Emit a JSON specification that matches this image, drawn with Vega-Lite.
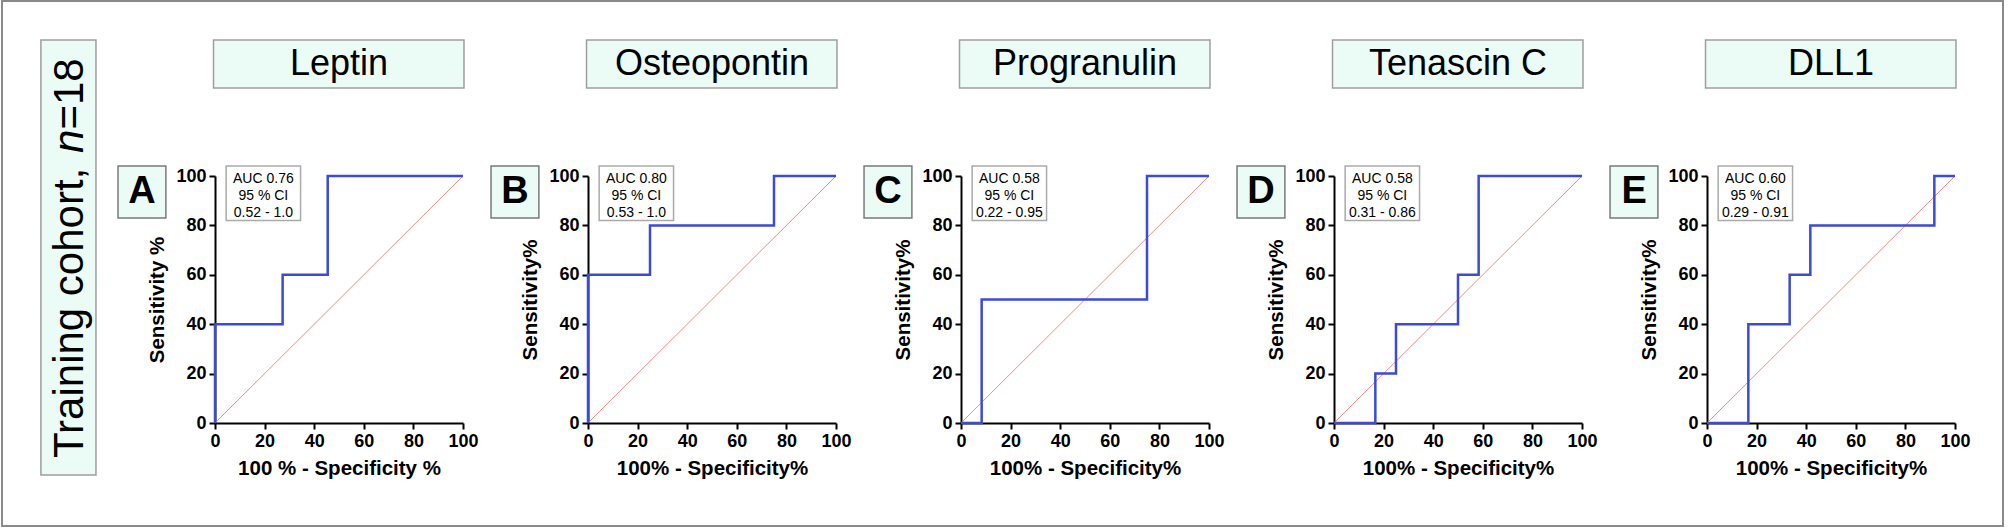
{
  "$schema": "https://vega.github.io/schema/vega-lite/v6.json",
  "padding": 0,
  "background": "white",
  "bounds": "flush",
  "spacing": 125,
  "config": {
    "view": {"stroke": null},
    "font": "Liberation Sans",
    "axis": {"grid": false, "domainColor": "#000", "domainWidth": 2, "tickColor": "#000", "tickWidth": 2, "tickSize": 6, "labelFont": "Liberation Sans", "labelFontSize": 18, "labelFontWeight": "bold", "labelColor": "#000", "labelFlush": false, "titleFont": "Liberation Sans", "titleFontSize": 20.5, "titleFontWeight": "bold", "titleColor": "#000"},
    "axisX": {"labelPadding": 3, "titlePadding": 8},
    "axisY": {"labelPadding": 3, "titlePadding": 8}
  },
  "datasets": {
    "info": [
      {"p": "A", "title": "Leptin", "letter": "A", "auc": "AUC 0.76\n95 % CI\n0.52 - 1.0"},
      {"p": "B", "title": "Osteopontin", "letter": "B", "auc": "AUC 0.80\n95 % CI\n0.53 - 1.0"},
      {"p": "C", "title": "Progranulin", "letter": "C", "auc": "AUC 0.58\n95 % CI\n0.22 - 0.95"},
      {"p": "D", "title": "Tenascin C", "letter": "D", "auc": "AUC 0.58\n95 % CI\n0.31 - 0.86"},
      {"p": "E", "title": "DLL1", "letter": "E", "auc": "AUC 0.60\n95 % CI\n0.29 - 0.91"}
    ],
    "diag": [{"x": 0, "y": 0}, {"x": 100, "y": 100}],
    "roc": [
      {"p": "A", "i": 0, "x": 0, "y": 0}, {"p": "A", "i": 1, "x": 0, "y": 40}, {"p": "A", "i": 2, "x": 27.27, "y": 40}, {"p": "A", "i": 3, "x": 27.27, "y": 60}, {"p": "A", "i": 4, "x": 45.45, "y": 60}, {"p": "A", "i": 5, "x": 45.45, "y": 100}, {"p": "A", "i": 6, "x": 100, "y": 100},
      {"p": "B", "i": 0, "x": 0, "y": 0}, {"p": "B", "i": 1, "x": 0, "y": 60}, {"p": "B", "i": 2, "x": 25, "y": 60}, {"p": "B", "i": 3, "x": 25, "y": 80}, {"p": "B", "i": 4, "x": 75, "y": 80}, {"p": "B", "i": 5, "x": 75, "y": 100}, {"p": "B", "i": 6, "x": 100, "y": 100},
      {"p": "C", "i": 0, "x": 0, "y": 0}, {"p": "C", "i": 1, "x": 8.33, "y": 0}, {"p": "C", "i": 2, "x": 8.33, "y": 50}, {"p": "C", "i": 3, "x": 75, "y": 50}, {"p": "C", "i": 4, "x": 75, "y": 100}, {"p": "C", "i": 5, "x": 100, "y": 100},
      {"p": "D", "i": 0, "x": 0, "y": 0}, {"p": "D", "i": 1, "x": 16.67, "y": 0}, {"p": "D", "i": 2, "x": 16.67, "y": 20}, {"p": "D", "i": 3, "x": 25, "y": 20}, {"p": "D", "i": 4, "x": 25, "y": 40}, {"p": "D", "i": 5, "x": 50, "y": 40}, {"p": "D", "i": 6, "x": 50, "y": 60}, {"p": "D", "i": 7, "x": 58.33, "y": 60}, {"p": "D", "i": 8, "x": 58.33, "y": 100}, {"p": "D", "i": 9, "x": 100, "y": 100},
      {"p": "E", "i": 0, "x": 0, "y": 0}, {"p": "E", "i": 1, "x": 16.67, "y": 0}, {"p": "E", "i": 2, "x": 16.67, "y": 40}, {"p": "E", "i": 3, "x": 33.33, "y": 40}, {"p": "E", "i": 4, "x": 33.33, "y": 60}, {"p": "E", "i": 5, "x": 41.67, "y": 60}, {"p": "E", "i": 6, "x": 41.67, "y": 80}, {"p": "E", "i": 7, "x": 91.67, "y": 80}, {"p": "E", "i": 8, "x": 91.67, "y": 100}, {"p": "E", "i": 9, "x": 100, "y": 100}
    ]
  },
  "hconcat": [
    {
      "width": 248, "height": 247,
      "layer": [
        {"data": {"name": "info"}, "transform": [{"filter": "datum.p==='A'"}], "mark": {"type": "rect", "fill": "white", "fillOpacity": 0, "stroke": "#8a8a8a", "strokeWidth": 2, "clip": false},
         "encoding": {"x": {"datum": -85.89, "type": "quantitative"}, "x2": {"datum": 720.97}, "y": {"datum": 170.85, "type": "quantitative"}, "y2": {"datum": -41.7}}},
        {"data": {"name": "info"}, "transform": [{"filter": "datum.p==='A'"}], "mark": {"type": "rect", "fill": "#ebfcf6", "stroke": "#9e9e9e", "strokeWidth": 1.5, "clip": false},
         "encoding": {"x": {"datum": -70.2, "type": "quantitative"}, "x2": {"datum": -48.0}, "y": {"datum": 155.1, "type": "quantitative"}, "y2": {"datum": -21.1}}},
        {"data": {"name": "info"}, "transform": [{"filter": "datum.p==='A'"}], "mark": {"type": "text", "angle": 270, "align": "left", "baseline": "alphabetic", "fontSize": 42, "color": "#000", "clip": false},
         "encoding": {"x": {"datum": -53.2, "type": "quantitative"}, "y": {"datum": -14.17, "type": "quantitative"}, "text": {"value": "Training cohort,"}}},
        {"data": {"name": "info"}, "transform": [{"filter": "datum.p==='A'"}], "mark": {"type": "text", "angle": 270, "align": "left", "baseline": "alphabetic", "fontSize": 42, "fontStyle": "italic", "color": "#000", "clip": false},
         "encoding": {"x": {"datum": -53.2, "type": "quantitative"}, "y": {"datum": 109.3, "type": "quantitative"}, "text": {"value": "n"}}},
        {"data": {"name": "info"}, "transform": [{"filter": "datum.p==='A'"}], "mark": {"type": "text", "angle": 270, "align": "left", "baseline": "alphabetic", "fontSize": 42, "color": "#000", "clip": false},
         "encoding": {"x": {"datum": -53.2, "type": "quantitative"}, "y": {"datum": 118.8, "type": "quantitative"}, "text": {"value": "=18"}}},
        {"data": {"name": "info"}, "transform": [{"filter": "datum.p==='A'"}], "mark": {"type": "rect", "fill": "#ebfcf6", "stroke": "#9e9e9e", "strokeWidth": 1.5, "clip": false},
         "encoding": {"x": {"datum": -0.6, "type": "quantitative"}, "x2": {"datum": 100.4}, "y": {"datum": 155.1, "type": "quantitative"}, "y2": {"datum": 135.6}}},
        {"data": {"name": "info"}, "transform": [{"filter": "datum.p==='A'"}], "mark": {"type": "text", "fontSize": 36, "align": "center", "baseline": "middle", "color": "#000", "clip": false},
         "encoding": {"x": {"datum": 50, "type": "quantitative"}, "y": {"datum": 145.2, "type": "quantitative"}, "text": {"field": "title"}}},
        {"data": {"name": "info"}, "transform": [{"filter": "datum.p==='A'"}], "mark": {"type": "rect", "fill": "#ebfcf6", "stroke": "#7a7a7a", "strokeWidth": 1.5, "clip": false},
         "encoding": {"x": {"datum": -39.1, "type": "quantitative"}, "x2": {"datum": -19.8}, "y": {"datum": 104, "type": "quantitative"}, "y2": {"datum": 83}}},
        {"data": {"name": "info"}, "transform": [{"filter": "datum.p==='A'"}], "mark": {"type": "text", "fontSize": 38, "fontWeight": "bold", "align": "center", "baseline": "middle", "color": "#000", "clip": false},
         "encoding": {"x": {"datum": -29.4, "type": "quantitative"}, "y": {"datum": 93.5, "type": "quantitative"}, "text": {"field": "letter"}}},
        {"data": {"name": "diag"}, "mark": {"type": "line", "color": "#f28b82", "strokeWidth": 1, "clip": false},
         "encoding": {"x": {"field": "x", "type": "quantitative"}, "y": {"field": "y", "type": "quantitative"}}},
        {"data": {"name": "roc"}, "transform": [{"filter": "datum.p==='A'"}], "mark": {"type": "line", "color": "#3b4ad8", "strokeWidth": 2.5, "clip": false},
         "encoding": {"x": {"field": "x", "type": "quantitative", "scale": {"domain": [0, 100], "nice": false}, "axis": {"title": "100 % - Specificity %", "values": [0, 20, 40, 60, 80, 100]}},
                      "y": {"field": "y", "type": "quantitative", "scale": {"domain": [0, 100], "nice": false}, "axis": {"title": "Sensitivity %", "values": [0, 20, 40, 60, 80, 100]}},
                      "order": {"field": "i"}}},
        {"data": {"name": "info"}, "transform": [{"filter": "datum.p==='A'"}], "mark": {"type": "rect", "fill": "white", "stroke": "#aaaaaa", "strokeWidth": 1.5, "clip": false},
         "encoding": {"x": {"datum": 4.5, "type": "quantitative"}, "x2": {"datum": 34.5}, "y": {"datum": 104, "type": "quantitative"}, "y2": {"datum": 82}}},
        {"data": {"name": "info"}, "transform": [{"filter": "datum.p==='A'"}], "mark": {"type": "text", "fontSize": 14, "lineBreak": "\n", "lineHeight": 17, "align": "center", "baseline": "middle", "color": "#000", "clip": false},
         "encoding": {"x": {"datum": 19.5, "type": "quantitative"}, "y": {"datum": 98.7, "type": "quantitative"}, "text": {"field": "auc"}}}
      ]
    },
    {
      "width": 248, "height": 247,
      "layer": [
        {"data": {"name": "info"}, "transform": [{"filter": "datum.p==='B'"}], "mark": {"type": "rect", "fill": "#ebfcf6", "stroke": "#9e9e9e", "strokeWidth": 1.5, "clip": false},
         "encoding": {"x": {"datum": -0.6, "type": "quantitative"}, "x2": {"datum": 100.4}, "y": {"datum": 155.1, "type": "quantitative"}, "y2": {"datum": 135.6}}},
        {"data": {"name": "info"}, "transform": [{"filter": "datum.p==='B'"}], "mark": {"type": "text", "fontSize": 36, "align": "center", "baseline": "middle", "color": "#000", "clip": false},
         "encoding": {"x": {"datum": 50, "type": "quantitative"}, "y": {"datum": 145.2, "type": "quantitative"}, "text": {"field": "title"}}},
        {"data": {"name": "info"}, "transform": [{"filter": "datum.p==='B'"}], "mark": {"type": "rect", "fill": "#ebfcf6", "stroke": "#7a7a7a", "strokeWidth": 1.5, "clip": false},
         "encoding": {"x": {"datum": -39.1, "type": "quantitative"}, "x2": {"datum": -19.8}, "y": {"datum": 104, "type": "quantitative"}, "y2": {"datum": 83}}},
        {"data": {"name": "info"}, "transform": [{"filter": "datum.p==='B'"}], "mark": {"type": "text", "fontSize": 38, "fontWeight": "bold", "align": "center", "baseline": "middle", "color": "#000", "clip": false},
         "encoding": {"x": {"datum": -29.4, "type": "quantitative"}, "y": {"datum": 93.5, "type": "quantitative"}, "text": {"field": "letter"}}},
        {"data": {"name": "diag"}, "mark": {"type": "line", "color": "#f28b82", "strokeWidth": 1, "clip": false},
         "encoding": {"x": {"field": "x", "type": "quantitative"}, "y": {"field": "y", "type": "quantitative"}}},
        {"data": {"name": "roc"}, "transform": [{"filter": "datum.p==='B'"}], "mark": {"type": "line", "color": "#3b4ad8", "strokeWidth": 2.5, "clip": false},
         "encoding": {"x": {"field": "x", "type": "quantitative", "scale": {"domain": [0, 100], "nice": false}, "axis": {"title": "100% - Specificity%", "values": [0, 20, 40, 60, 80, 100]}},
                      "y": {"field": "y", "type": "quantitative", "scale": {"domain": [0, 100], "nice": false}, "axis": {"title": "Sensitivity%", "values": [0, 20, 40, 60, 80, 100]}},
                      "order": {"field": "i"}}},
        {"data": {"name": "info"}, "transform": [{"filter": "datum.p==='B'"}], "mark": {"type": "rect", "fill": "white", "stroke": "#aaaaaa", "strokeWidth": 1.5, "clip": false},
         "encoding": {"x": {"datum": 4.5, "type": "quantitative"}, "x2": {"datum": 34.5}, "y": {"datum": 104, "type": "quantitative"}, "y2": {"datum": 82}}},
        {"data": {"name": "info"}, "transform": [{"filter": "datum.p==='B'"}], "mark": {"type": "text", "fontSize": 14, "lineBreak": "\n", "lineHeight": 17, "align": "center", "baseline": "middle", "color": "#000", "clip": false},
         "encoding": {"x": {"datum": 19.5, "type": "quantitative"}, "y": {"datum": 98.7, "type": "quantitative"}, "text": {"field": "auc"}}}
      ]
    },
    {
      "width": 248, "height": 247,
      "layer": [
        {"data": {"name": "info"}, "transform": [{"filter": "datum.p==='C'"}], "mark": {"type": "rect", "fill": "#ebfcf6", "stroke": "#9e9e9e", "strokeWidth": 1.5, "clip": false},
         "encoding": {"x": {"datum": -0.6, "type": "quantitative"}, "x2": {"datum": 100.4}, "y": {"datum": 155.1, "type": "quantitative"}, "y2": {"datum": 135.6}}},
        {"data": {"name": "info"}, "transform": [{"filter": "datum.p==='C'"}], "mark": {"type": "text", "fontSize": 36, "align": "center", "baseline": "middle", "color": "#000", "clip": false},
         "encoding": {"x": {"datum": 50, "type": "quantitative"}, "y": {"datum": 145.2, "type": "quantitative"}, "text": {"field": "title"}}},
        {"data": {"name": "info"}, "transform": [{"filter": "datum.p==='C'"}], "mark": {"type": "rect", "fill": "#ebfcf6", "stroke": "#7a7a7a", "strokeWidth": 1.5, "clip": false},
         "encoding": {"x": {"datum": -39.1, "type": "quantitative"}, "x2": {"datum": -19.8}, "y": {"datum": 104, "type": "quantitative"}, "y2": {"datum": 83}}},
        {"data": {"name": "info"}, "transform": [{"filter": "datum.p==='C'"}], "mark": {"type": "text", "fontSize": 38, "fontWeight": "bold", "align": "center", "baseline": "middle", "color": "#000", "clip": false},
         "encoding": {"x": {"datum": -29.4, "type": "quantitative"}, "y": {"datum": 93.5, "type": "quantitative"}, "text": {"field": "letter"}}},
        {"data": {"name": "diag"}, "mark": {"type": "line", "color": "#f28b82", "strokeWidth": 1, "clip": false},
         "encoding": {"x": {"field": "x", "type": "quantitative"}, "y": {"field": "y", "type": "quantitative"}}},
        {"data": {"name": "roc"}, "transform": [{"filter": "datum.p==='C'"}], "mark": {"type": "line", "color": "#3b4ad8", "strokeWidth": 2.5, "clip": false},
         "encoding": {"x": {"field": "x", "type": "quantitative", "scale": {"domain": [0, 100], "nice": false}, "axis": {"title": "100% - Specificity%", "values": [0, 20, 40, 60, 80, 100]}},
                      "y": {"field": "y", "type": "quantitative", "scale": {"domain": [0, 100], "nice": false}, "axis": {"title": "Sensitivity%", "values": [0, 20, 40, 60, 80, 100]}},
                      "order": {"field": "i"}}},
        {"data": {"name": "info"}, "transform": [{"filter": "datum.p==='C'"}], "mark": {"type": "rect", "fill": "white", "stroke": "#aaaaaa", "strokeWidth": 1.5, "clip": false},
         "encoding": {"x": {"datum": 4.5, "type": "quantitative"}, "x2": {"datum": 34.5}, "y": {"datum": 104, "type": "quantitative"}, "y2": {"datum": 82}}},
        {"data": {"name": "info"}, "transform": [{"filter": "datum.p==='C'"}], "mark": {"type": "text", "fontSize": 14, "lineBreak": "\n", "lineHeight": 17, "align": "center", "baseline": "middle", "color": "#000", "clip": false},
         "encoding": {"x": {"datum": 19.5, "type": "quantitative"}, "y": {"datum": 98.7, "type": "quantitative"}, "text": {"field": "auc"}}}
      ]
    },
    {
      "width": 248, "height": 247,
      "layer": [
        {"data": {"name": "info"}, "transform": [{"filter": "datum.p==='D'"}], "mark": {"type": "rect", "fill": "#ebfcf6", "stroke": "#9e9e9e", "strokeWidth": 1.5, "clip": false},
         "encoding": {"x": {"datum": -0.6, "type": "quantitative"}, "x2": {"datum": 100.4}, "y": {"datum": 155.1, "type": "quantitative"}, "y2": {"datum": 135.6}}},
        {"data": {"name": "info"}, "transform": [{"filter": "datum.p==='D'"}], "mark": {"type": "text", "fontSize": 36, "align": "center", "baseline": "middle", "color": "#000", "clip": false},
         "encoding": {"x": {"datum": 50, "type": "quantitative"}, "y": {"datum": 145.2, "type": "quantitative"}, "text": {"field": "title"}}},
        {"data": {"name": "info"}, "transform": [{"filter": "datum.p==='D'"}], "mark": {"type": "rect", "fill": "#ebfcf6", "stroke": "#7a7a7a", "strokeWidth": 1.5, "clip": false},
         "encoding": {"x": {"datum": -39.1, "type": "quantitative"}, "x2": {"datum": -19.8}, "y": {"datum": 104, "type": "quantitative"}, "y2": {"datum": 83}}},
        {"data": {"name": "info"}, "transform": [{"filter": "datum.p==='D'"}], "mark": {"type": "text", "fontSize": 38, "fontWeight": "bold", "align": "center", "baseline": "middle", "color": "#000", "clip": false},
         "encoding": {"x": {"datum": -29.4, "type": "quantitative"}, "y": {"datum": 93.5, "type": "quantitative"}, "text": {"field": "letter"}}},
        {"data": {"name": "diag"}, "mark": {"type": "line", "color": "#f28b82", "strokeWidth": 1, "clip": false},
         "encoding": {"x": {"field": "x", "type": "quantitative"}, "y": {"field": "y", "type": "quantitative"}}},
        {"data": {"name": "roc"}, "transform": [{"filter": "datum.p==='D'"}], "mark": {"type": "line", "color": "#3b4ad8", "strokeWidth": 2.5, "clip": false},
         "encoding": {"x": {"field": "x", "type": "quantitative", "scale": {"domain": [0, 100], "nice": false}, "axis": {"title": "100% - Specificity%", "values": [0, 20, 40, 60, 80, 100]}},
                      "y": {"field": "y", "type": "quantitative", "scale": {"domain": [0, 100], "nice": false}, "axis": {"title": "Sensitivity%", "values": [0, 20, 40, 60, 80, 100]}},
                      "order": {"field": "i"}}},
        {"data": {"name": "info"}, "transform": [{"filter": "datum.p==='D'"}], "mark": {"type": "rect", "fill": "white", "stroke": "#aaaaaa", "strokeWidth": 1.5, "clip": false},
         "encoding": {"x": {"datum": 4.5, "type": "quantitative"}, "x2": {"datum": 34.5}, "y": {"datum": 104, "type": "quantitative"}, "y2": {"datum": 82}}},
        {"data": {"name": "info"}, "transform": [{"filter": "datum.p==='D'"}], "mark": {"type": "text", "fontSize": 14, "lineBreak": "\n", "lineHeight": 17, "align": "center", "baseline": "middle", "color": "#000", "clip": false},
         "encoding": {"x": {"datum": 19.5, "type": "quantitative"}, "y": {"datum": 98.7, "type": "quantitative"}, "text": {"field": "auc"}}}
      ]
    },
    {
      "width": 248, "height": 247,
      "layer": [
        {"data": {"name": "info"}, "transform": [{"filter": "datum.p==='E'"}], "mark": {"type": "rect", "fill": "#ebfcf6", "stroke": "#9e9e9e", "strokeWidth": 1.5, "clip": false},
         "encoding": {"x": {"datum": -0.6, "type": "quantitative"}, "x2": {"datum": 100.4}, "y": {"datum": 155.1, "type": "quantitative"}, "y2": {"datum": 135.6}}},
        {"data": {"name": "info"}, "transform": [{"filter": "datum.p==='E'"}], "mark": {"type": "text", "fontSize": 36, "align": "center", "baseline": "middle", "color": "#000", "clip": false},
         "encoding": {"x": {"datum": 50, "type": "quantitative"}, "y": {"datum": 145.2, "type": "quantitative"}, "text": {"field": "title"}}},
        {"data": {"name": "info"}, "transform": [{"filter": "datum.p==='E'"}], "mark": {"type": "rect", "fill": "#ebfcf6", "stroke": "#7a7a7a", "strokeWidth": 1.5, "clip": false},
         "encoding": {"x": {"datum": -39.1, "type": "quantitative"}, "x2": {"datum": -19.8}, "y": {"datum": 104, "type": "quantitative"}, "y2": {"datum": 83}}},
        {"data": {"name": "info"}, "transform": [{"filter": "datum.p==='E'"}], "mark": {"type": "text", "fontSize": 38, "fontWeight": "bold", "align": "center", "baseline": "middle", "color": "#000", "clip": false},
         "encoding": {"x": {"datum": -29.4, "type": "quantitative"}, "y": {"datum": 93.5, "type": "quantitative"}, "text": {"field": "letter"}}},
        {"data": {"name": "diag"}, "mark": {"type": "line", "color": "#f28b82", "strokeWidth": 1, "clip": false},
         "encoding": {"x": {"field": "x", "type": "quantitative"}, "y": {"field": "y", "type": "quantitative"}}},
        {"data": {"name": "roc"}, "transform": [{"filter": "datum.p==='E'"}], "mark": {"type": "line", "color": "#3b4ad8", "strokeWidth": 2.5, "clip": false},
         "encoding": {"x": {"field": "x", "type": "quantitative", "scale": {"domain": [0, 100], "nice": false}, "axis": {"title": "100% - Specificity%", "values": [0, 20, 40, 60, 80, 100]}},
                      "y": {"field": "y", "type": "quantitative", "scale": {"domain": [0, 100], "nice": false}, "axis": {"title": "Sensitivity%", "values": [0, 20, 40, 60, 80, 100]}},
                      "order": {"field": "i"}}},
        {"data": {"name": "info"}, "transform": [{"filter": "datum.p==='E'"}], "mark": {"type": "rect", "fill": "white", "stroke": "#aaaaaa", "strokeWidth": 1.5, "clip": false},
         "encoding": {"x": {"datum": 4.5, "type": "quantitative"}, "x2": {"datum": 34.5}, "y": {"datum": 104, "type": "quantitative"}, "y2": {"datum": 82}}},
        {"data": {"name": "info"}, "transform": [{"filter": "datum.p==='E'"}], "mark": {"type": "text", "fontSize": 14, "lineBreak": "\n", "lineHeight": 17, "align": "center", "baseline": "middle", "color": "#000", "clip": false},
         "encoding": {"x": {"datum": 19.5, "type": "quantitative"}, "y": {"datum": 98.7, "type": "quantitative"}, "text": {"field": "auc"}}}
      ]
    }
  ]
}
